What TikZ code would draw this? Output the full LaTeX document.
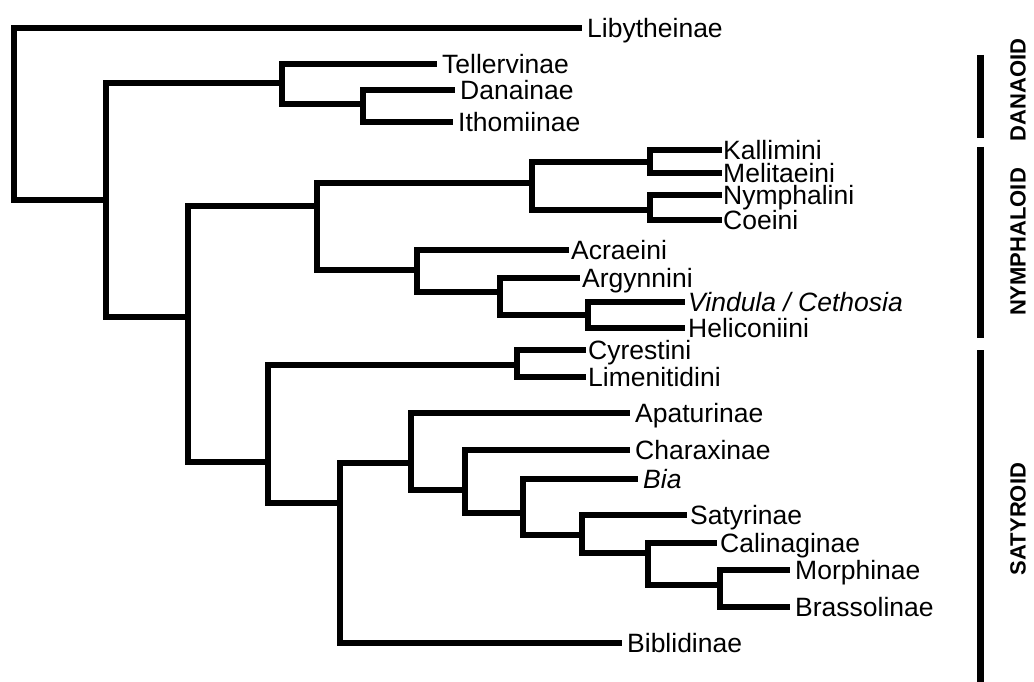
\documentclass[tikz,border=0pt]{standalone}
\usepackage{fontspec}
\setmainfont{Liberation Sans}

\begin{document}
\begin{tikzpicture}[x=1pt, y=-1pt]
\tikzstyle{branch}=[draw, line width=6.3pt, line cap=rect, to path={|- (\tikztotarget)}]
\tikzstyle{taxon}=[anchor=west, inner xsep=8pt, inner ysep=0pt, text height=18.5pt, text depth=0pt, font=\fontsize{26.5}{27}\selectfont]
\tikzstyle{group}=[rotate=90, inner sep=0pt, font=\bfseries\fontsize{22}{22}\selectfont]
\tikzstyle{bar}=[line width=7pt]
\useasboundingbox (0,0) rectangle (1034,682);

% internal nodes of the tree
\coordinate (Root) at (14,200);
\coordinate (Nymphalidae) at (106,200);
\coordinate (Danaoid) at (282,83);
\coordinate (DanIth) at (363,104);
\coordinate (Rest) at (188,317);
\coordinate (Nymphaloid) at (317,206);
\coordinate (Nymphalinae) at (532,183);
\coordinate (KalMel) at (650,162);
\coordinate (NymCoe) at (650,210);
\coordinate (Heliconiinae) at (417,270);
\coordinate (ArgHel) at (500,292);
\coordinate (VinHel) at (588,315);
\coordinate (Satyroid) at (268,462);
\coordinate (Limenitidinae) at (517,365);
\coordinate (SatBib) at (340,503);
\coordinate (SatA) at (411,463);
\coordinate (SatB) at (465,490);
\coordinate (SatC) at (523,513);
\coordinate (SatD) at (582,535);
\coordinate (SatE) at (648,553);
\coordinate (MorBra) at (720,585);

% tips
\node[taxon] (Lib) at (579,28) {Libytheinae};
\node[taxon] (Tel) at (434,64) {Tellervinae};
\node[taxon] (Dan) at (452,90) {Danainae};
\node[taxon] (Ith) at (450,122) {Ithomiinae};
\node[taxon, inner xsep=4pt] (Kal) at (719,150) {Kallimini};
\node[taxon, inner xsep=4pt] (Mel) at (719,173) {Melitaeini};
\node[taxon, inner xsep=4pt] (Nym) at (719,195) {Nymphalini};
\node[taxon, inner xsep=4pt] (Coe) at (719,220) {Coeini};
\node[taxon, inner xsep=5pt] (Acr) at (566,250) {Acraeini};
\node[taxon, inner xsep=5pt] (Arg) at (577,278) {Argynnini};
\node[taxon, inner xsep=6pt] (Vin) at (682,302) {\itshape Vindula / Cethosia};
\node[taxon, inner xsep=6pt] (Hel) at (682,328) {Heliconiini};
\node[taxon, inner xsep=5pt] (Cyr) at (583,350) {Cyrestini};
\node[taxon, inner xsep=5pt] (Lim) at (583,377) {Limenitidini};
\node[taxon] (Apa) at (627,413) {Apaturinae};
\node[taxon] (Cha) at (627,450) {Charaxinae};
\node[taxon] (Bia) at (635,479) {\itshape Bia};
\node[taxon, inner xsep=6pt] (Sat) at (684,515) {Satyrinae};
\node[taxon, inner xsep=6pt] (Cal) at (714,543) {Calinaginae};
\node[taxon] (Mor) at (787,570) {Morphinae};
\node[taxon] (Bra) at (787,607) {Brassolinae};
\node[taxon] (Bib) at (619,643) {Biblidinae};

\path
  (Root) edge [branch] (Lib.west)
  (Root) edge [branch] (Nymphalidae)
  (Nymphalidae) edge [branch] (Danaoid)
  (Nymphalidae) edge [branch] (Rest)
  (Danaoid) edge [branch] (Tel.west)
  (Danaoid) edge [branch] (DanIth)
  (DanIth) edge [branch] (Dan.west)
  (DanIth) edge [branch] (Ith.west)
  (Rest) edge [branch] (Nymphaloid)
  (Rest) edge [branch] (Satyroid)
  (Nymphaloid) edge [branch] (Nymphalinae)
  (Nymphaloid) edge [branch] (Heliconiinae)
  (Nymphalinae) edge [branch] (KalMel)
  (Nymphalinae) edge [branch] (NymCoe)
  (KalMel) edge [branch] (Kal.west)
  (KalMel) edge [branch] (Mel.west)
  (NymCoe) edge [branch] (Nym.west)
  (NymCoe) edge [branch] (Coe.west)
  (Heliconiinae) edge [branch] (Acr.west)
  (Heliconiinae) edge [branch] (ArgHel)
  (ArgHel) edge [branch] (Arg.west)
  (ArgHel) edge [branch] (VinHel)
  (VinHel) edge [branch] (Vin.west)
  (VinHel) edge [branch] (Hel.west)
  (Satyroid) edge [branch] (Limenitidinae)
  (Satyroid) edge [branch] (SatBib)
  (Limenitidinae) edge [branch] (Cyr.west)
  (Limenitidinae) edge [branch] (Lim.west)
  (SatBib) edge [branch] (SatA)
  (SatBib) edge [branch] (Bib.west)
  (SatA) edge [branch] (Apa.west)
  (SatA) edge [branch] (SatB)
  (SatB) edge [branch] (Cha.west)
  (SatB) edge [branch] (SatC)
  (SatC) edge [branch] (Bia.west)
  (SatC) edge [branch] (SatD)
  (SatD) edge [branch] (Sat.west)
  (SatD) edge [branch] (SatE)
  (SatE) edge [branch] (Cal.west)
  (SatE) edge [branch] (MorBra)
  (MorBra) edge [branch] (Mor.west)
  (MorBra) edge [branch] (Bra.west);

% groups on the right
\coordinate (DanTop) at (980,55);
\coordinate (DanBot) at (980,138);
\coordinate (NymTop) at (980,147);
\coordinate (NymBot) at (980,338);
\coordinate (SatTop) at (980,350);
\coordinate (SatBot) at (980,682);
\draw[bar] (DanTop) -- (DanBot);
\draw[bar] (NymTop) -- (NymBot);
\draw[bar] (SatTop) -- (SatBot);
\node[group] (DanLabel) at (1018,90) {DANAOID};
\node[group] (NymLabel) at (1018,242) {NYMPHALOID};
\node[group] (SatLabel) at (1018,519) {SATYROID};
\end{tikzpicture}
\end{document}
